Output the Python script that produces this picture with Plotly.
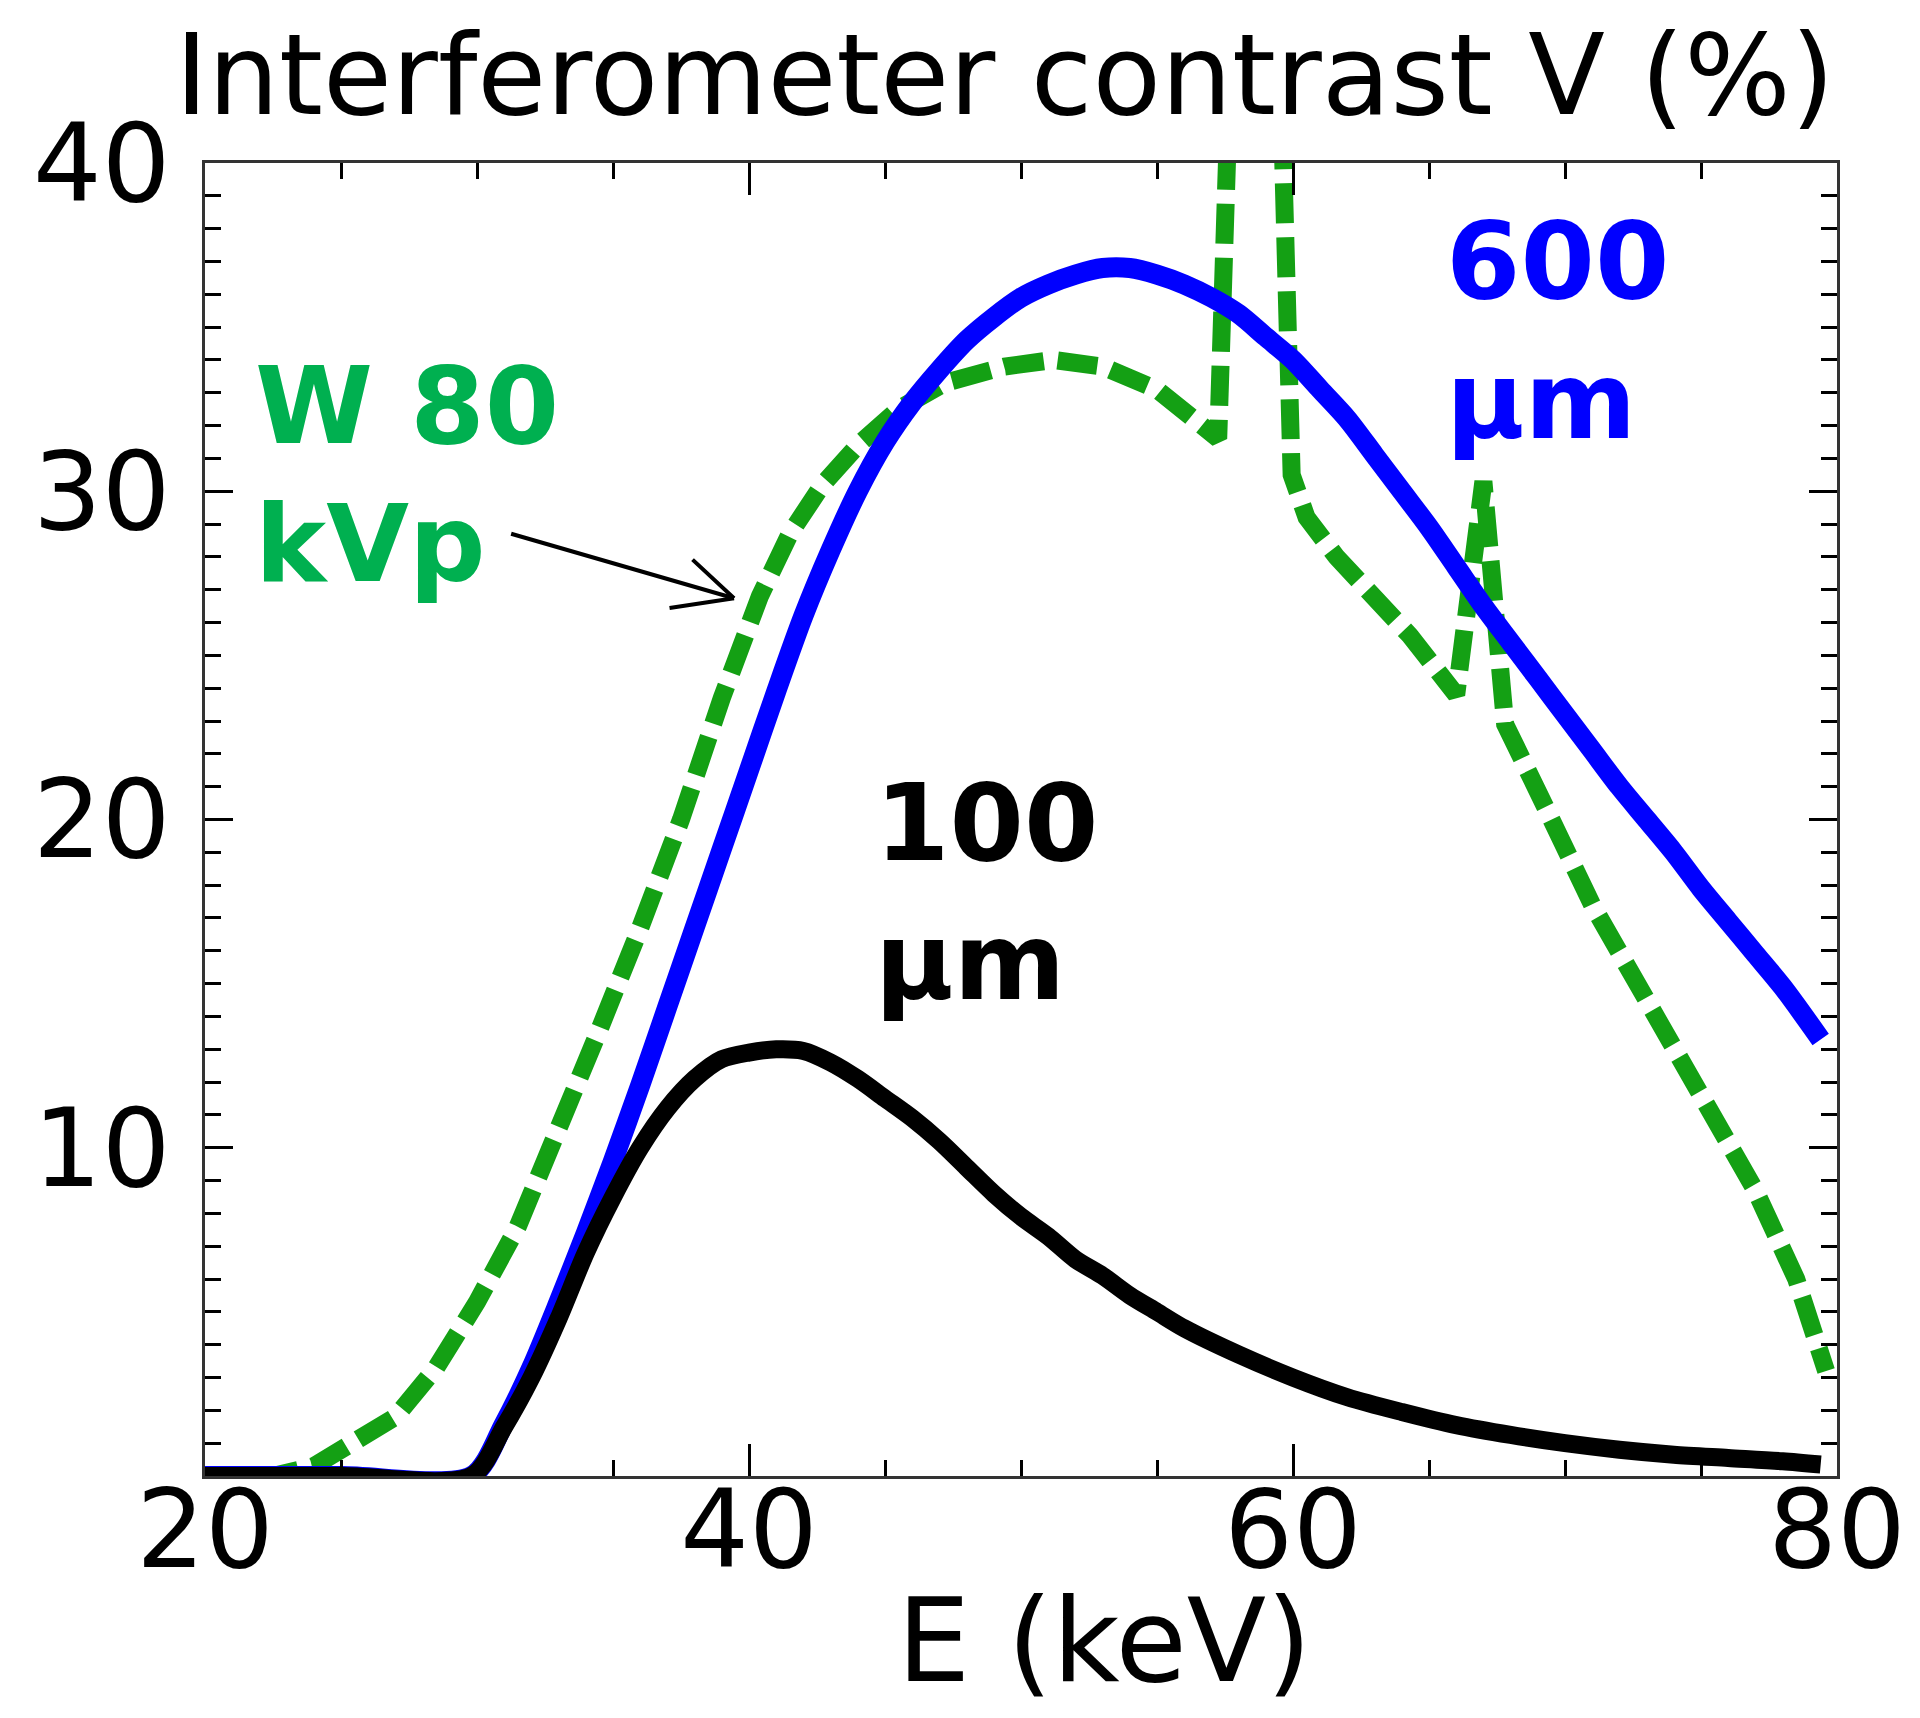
import plotly.graph_objects as go

# ---------------- data ----------------
blue_x = [20, 25, 29.8, 31, 32, 33, 34, 35, 36, 37, 38, 39, 40, 41, 42, 43, 44, 45, 46, 47, 48, 49, 50,
          51, 52, 53, 54, 55, 56, 57, 58, 59, 60, 61, 62, 63, 64, 65, 66, 67, 68, 69, 70, 71, 72,
          73, 74, 75, 76, 77, 78, 79.4]
blue_y = [0, 0, 0, 1.6, 3.3, 5.3, 7.4, 9.6, 11.9, 14.3, 16.7, 19.1, 21.5, 23.9, 26.2, 28.2, 30.0, 31.5,
          32.7, 33.7, 34.6, 35.3, 35.9, 36.3, 36.6, 36.8, 36.8, 36.6, 36.3, 35.9, 35.4, 34.7, 34.0,
          33.1, 32.2, 31.1, 30.0, 28.9, 27.7, 26.5, 25.4, 24.3, 23.2, 22.1, 21.0, 20.0, 19.0, 17.9,
          16.9, 15.9, 14.9, 13.3]

black_x = [20, 25, 29.8, 31, 32, 33, 34, 35, 36, 37, 38, 39, 40, 41, 42, 43, 44, 45, 46, 47, 48, 49, 50,
           51, 52, 53, 54, 55, 56, 58, 60, 62, 64, 66, 68, 70, 72, 74, 76, 78, 79.4]
black_y = [0, 0, 0, 1.5, 3.0, 4.8, 6.8, 8.5, 10.0, 11.2, 12.1, 12.7, 12.9, 13.0, 12.95, 12.6, 12.1, 11.5,
           10.9, 10.2, 9.4, 8.6, 7.9, 7.3, 6.6, 6.1, 5.5, 5.0, 4.5, 3.7, 3.0, 2.4, 1.95, 1.55, 1.25,
           1.0, 0.8, 0.65, 0.55, 0.45, 0.35]

green_x = [20, 22.5, 24.0, 25.5, 27.0, 28.5, 30.0, 31.5, 33.0, 34.5, 36.0, 37.5, 39.0, 40.4, 41.5,
           42.7, 44.0, 45.5, 47.2, 49.4, 51.2, 53.0, 55.0, 56.5, 57.25, 57.8, 59.45, 59.95, 60.5,
           61.6, 62.8, 64.3, 66.0, 67.0, 67.8, 68.7, 69.5, 71.0, 73.3, 75.5, 77.0, 78.5, 79.6]
green_y = [0, 0, 0.3, 1.0, 1.8, 3.3, 5.3, 7.6, 10.5, 13.6, 16.7, 20.0, 23.7, 26.8, 28.7, 30.2, 31.4,
           32.5, 33.3, 33.8, 34.0, 33.8, 33.1, 32.2, 31.6, 46, 46, 30.5, 29.2, 28.0, 26.9, 25.6,
           23.8, 30.3, 22.9, 21.5, 20.0, 17.4, 14.0, 11.0, 8.7, 6.0, 3.2]

x_tick_vals = [20, 40, 60, 80]
x_tick_text = ["20", "40", "60", "80"]
y_tick_vals = [10, 20, 30, 40]
y_tick_text = ["10", "20", "30", "40"]

title_text = "Interferometer contrast V (%)"
xaxis_text = "E (keV)"

# label texts and their anchor positions (data coordinates)
labels = [
    ("W 80", 21.75, 32.6, "#00B050"),
    ("kVp", 21.75, 28.4, "#00B050"),
    ("600", 65.55, 37.0, "#0000FF"),
    ("µm", 65.55, 32.75, "#0000FF"),
    ("100", 44.55, 19.9, "#000000"),
    ("µm", 44.55, 15.65, "#000000"),
]
arrow_tip = (39.45, 26.74)
arrow_tail = (31.2, 28.72)
# open "V" arrow head: barb end offsets from the tip, in pixels
arrow_barbs = [(-43, -40), (-66, 10)]

# ---------------- figure ----------------
fig = go.Figure()
fig.add_trace(go.Scatter(x=green_x, y=green_y, mode="lines",
                         line=dict(color="#14A014", width=18, dash="40px,14px"),
                         showlegend=False, hoverinfo="skip"))
fig.add_trace(go.Scatter(x=blue_x, y=blue_y, mode="lines",
                         line=dict(color="#0000FF", width=20, shape="spline", smoothing=0.8),
                         showlegend=False, hoverinfo="skip"))
fig.add_trace(go.Scatter(x=black_x, y=black_y, mode="lines",
                         line=dict(color="#000000", width=18, shape="spline", smoothing=0.8),
                         showlegend=False, hoverinfo="skip"))

tick_font = dict(family="DejaVu Sans", size=108, color="black")

fig.update_xaxes(range=[20, 80], tickvals=x_tick_vals, ticktext=x_tick_text,
                 ticks="inside", ticklen=32, tickwidth=3, tickcolor="black",
                 showline=True, linecolor="#333333", linewidth=3, mirror="allticks",
                 showgrid=False, zeroline=False, tickfont=tick_font,
                 ticklabelstandoff=-42, automargin=False,
                 minor=dict(dtick=5, tick0=20, ticks="inside", ticklen=16,
                            tickwidth=3, tickcolor="black", showgrid=False))
fig.update_yaxes(range=[0, 40], tickvals=y_tick_vals, ticktext=y_tick_text,
                 ticks="inside", ticklen=28, tickwidth=3, tickcolor="black",
                 showline=True, linecolor="#333333", linewidth=3, mirror="allticks",
                 showgrid=False, zeroline=False, tickfont=tick_font,
                 ticklabelstandoff=10, automargin=False,
                 minor=dict(dtick=1, tick0=0, ticks="inside", ticklen=16,
                            tickwidth=3, tickcolor="black", showgrid=False))

annotations = []
for txt, ax_, ay_, col in labels:
    annotations.append(dict(text=f"<b>{txt}</b>", x=ax_, y=ay_, xref="x", yref="y",
                            xanchor="left", yanchor="middle", showarrow=False,
                            font=dict(family="DejaVu Sans", size=107, color=col)))
# arrow shaft
annotations.append(dict(text="", x=arrow_tip[0], y=arrow_tip[1], ax=arrow_tail[0], ay=arrow_tail[1],
                        xref="x", yref="y", axref="x", ayref="y", showarrow=True,
                        arrowhead=0, arrowwidth=4, arrowcolor="black", standoff=0, startstandoff=0))
# arrow barbs
for bx, by in arrow_barbs:
    annotations.append(dict(text="", x=arrow_tip[0], y=arrow_tip[1], ax=bx, ay=by,
                            xref="x", yref="y", showarrow=True,
                            arrowhead=0, arrowwidth=4, arrowcolor="black", standoff=0))
annotations.append(dict(text=title_text, x=0.4899, y=1.1181, xref="paper", yref="paper",
                        xanchor="center", yanchor="top", showarrow=False,
                        font=dict(family="DejaVu Sans", size=112, color="black")))
annotations.append(dict(text=xaxis_text, x=0.551, y=-0.125, xref="paper", yref="paper",
                        xanchor="center", yanchor="middle", showarrow=False,
                        font=dict(family="DejaVu Sans", size=116, color="black")))

# the page body adds an 8 px offset; compensate so the plot frame lands where the reference has it
fig.update_layout(width=1912, height=1710,
                  margin=dict(l=197, r=83, t=155, b=242),
                  paper_bgcolor="white", plot_bgcolor="white",
                  annotations=annotations, showlegend=False)

fig.write_html("out.html")
